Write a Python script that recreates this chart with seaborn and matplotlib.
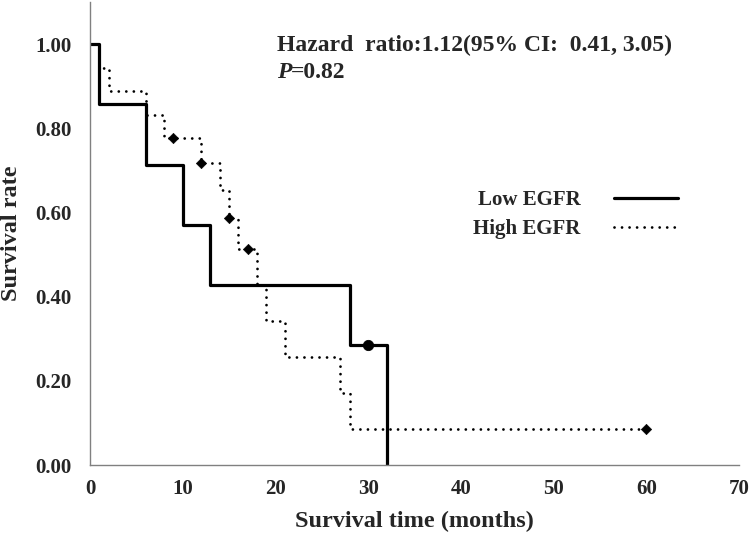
import matplotlib
matplotlib.use("Agg")
import matplotlib.pyplot as plt
import seaborn as sns
import pandas as pd
from matplotlib.lines import Line2D

# Step levels (time in months, survival rate)
low_time = [0, 1, 6, 10, 13, 28, 30, 32]
low_surv = [1.0, 0.857, 0.714, 0.571, 0.429, 0.286, 0.286, 0.0]
low_cens_time = [30]
low_cens_surv = [0.286]

high_time = [0, 1, 2, 6, 8, 9, 12, 14, 15, 16, 17, 18, 19, 21, 27, 28, 60]
high_surv = [1.0, 0.944, 0.889, 0.833, 0.778, 0.778, 0.718, 0.653, 0.587,
             0.514, 0.514, 0.428, 0.343, 0.257, 0.171, 0.086, 0.086]
high_cens_time = [9, 12, 15, 17, 60]
high_cens_surv = [0.778, 0.718, 0.587, 0.514, 0.086]

x_ticks = [0, 10, 20, 30, 40, 50, 60, 70]
y_ticks = [0.0, 0.2, 0.4, 0.6, 0.8, 1.0]

sns.set_style("white")
plt.rcParams['font.family'] = ['Liberation Serif', 'DejaVu Serif']
plt.rcParams['font.weight'] = 'bold'

low = pd.DataFrame({'t': low_time, 's': low_surv})
high = pd.DataFrame({'t': high_time, 's': high_surv})

fig = plt.figure(figsize=(7.56, 5.37), dpi=100)
ax = fig.add_axes([0.119, 0.134, 0.8585, 0.862])

dots = (0, (0.01, 2.7))
sns.lineplot(data=low, x='t', y='s', ax=ax, color='black', linewidth=2.3,
             drawstyle='steps-post', estimator=None, sort=False)
sns.lineplot(data=high, x='t', y='s', ax=ax, color='black', linewidth=2.0,
             linestyle=dots, dash_capstyle='round',
             drawstyle='steps-post', estimator=None, sort=False)
sns.scatterplot(x=low_cens_time, y=low_cens_surv, ax=ax, color='black',
                marker='o', s=55, edgecolor='black', zorder=5)
sns.scatterplot(x=high_cens_time, y=high_cens_surv, ax=ax, color='black',
                marker='D', s=28, edgecolor='black', zorder=5)

ax.set_xlim(0, 70)
ax.set_ylim(0, 1.1)
ax.set_xticks(x_ticks)
ax.set_yticks(y_ticks)
ax.set_yticklabels([f'{v:.2f}' for v in y_ticks])
ax.tick_params(axis='both', direction='out', length=5, width=1, color='#808080',
               labelsize=15)
ax.tick_params(axis='y', pad=8)
ax.tick_params(axis='x', pad=5)
for lab in ax.get_xticklabels() + ax.get_yticklabels():
    lab.set_fontweight('bold')

sns.despine(ax=ax)
for sp in ['left', 'bottom']:
    ax.spines[sp].set_color('#808080')
    ax.spines[sp].set_linewidth(1)

ax.set_xlabel('Survival time (months)', fontsize=17.5, fontweight='bold')
ax.set_ylabel('Survival rate', fontsize=17.5, fontweight='bold')
ax.xaxis.set_label_coords(0.5, -0.1)
ax.yaxis.set_label_coords(-0.105, 0.5)

# Hazard ratio annotation
fig.text(277 / 756, 1 - 45 / 537, 'Hazard  ratio:1.12(95% CI:  0.41, 3.05)',
         fontsize=17, fontweight='bold', va='center', ha='left')
fig.text(277 / 756, 1 - 72 / 537, 'P', fontsize=17, fontweight='bold',
         fontstyle='italic', va='center', ha='left')
fig.text(291 / 756, 1 - 72 / 537, '=0.82', fontsize=17, fontweight='bold',
         va='center', ha='left')

# Legend: label on the left, line sample on the right
handles = [Line2D([], [], color='black', linewidth=2.3),
           Line2D([], [], color='black', linewidth=2.0, linestyle=dots,
                  dash_capstyle='round')]
leg = ax.legend(handles, ['Low EGFR', 'High EGFR'], loc='upper left',
                bbox_to_anchor=((473 - 90) / 649, (465 - 190) / 463),
                frameon=False, markerfirst=False, borderpad=0, borderaxespad=0,
                handlelength=3.1, handletextpad=1.6, labelspacing=0.45,
                prop={'family': 'Liberation Serif', 'weight': 'bold', 'size': 15})

fig.savefig('out.png', dpi=100)
